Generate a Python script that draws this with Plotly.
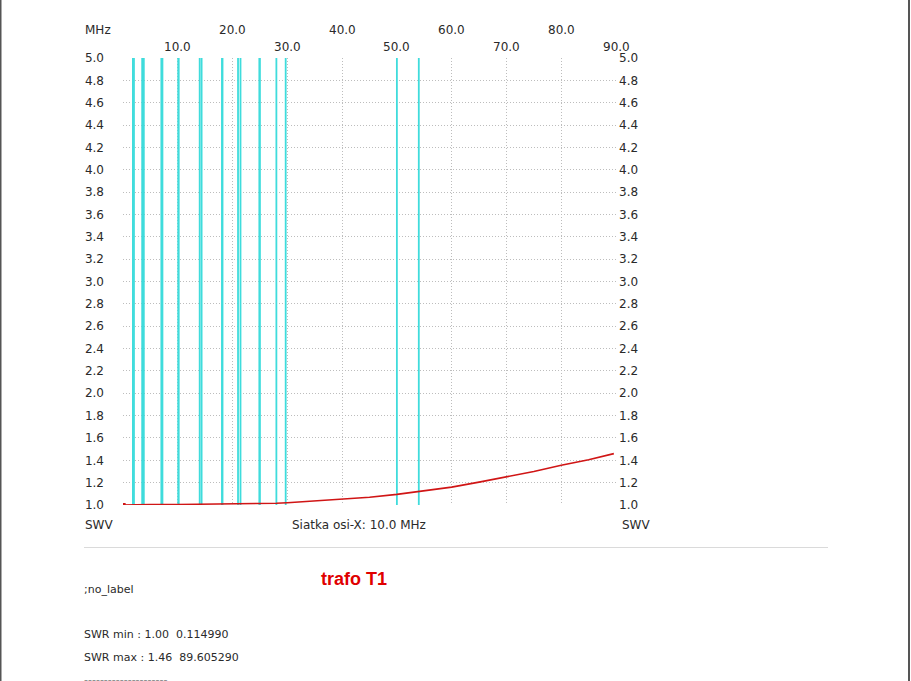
import plotly.graph_objects as go

# ---- data ----
freq_mhz = [0.115, 2.5, 5.0, 10.0, 15.0, 17.5, 20.0, 25.0, 28.0, 30.0, 35.0, 40.0, 45.0,
            50.0, 55.0, 60.0, 65.0, 70.0, 75.0, 80.0, 85.0, 89.605]
swr = [1.00, 1.005, 1.005, 1.005, 1.006, 1.01, 1.01, 1.012, 1.015, 1.02, 1.035, 1.05, 1.07,
       1.095, 1.125, 1.16, 1.205, 1.25, 1.30, 1.355, 1.405, 1.46]
band_edges_mhz = [1.81, 2.0, 3.5, 3.8, 7.0, 7.2, 10.1, 10.15, 14.0, 14.35, 18.068, 18.168,
                  21.0, 21.45, 24.89, 24.99, 28.0, 29.7, 50.0, 54.0]
x_ticks_upper = [20, 40, 60, 80]
x_ticks_lower = [10, 30, 50, 70, 90]
y_ticks = [round(1.0 + 0.2 * i, 1) for i in range(21)]
y_tick_text = [f"{v:.1f}" for v in y_ticks]
info_lines = [";no_label", "SWR min : 1.00  0.114990", "SWR max : 1.46  89.605290",
              "---------------------"]
title_text = "trafo T1"

W, H = 911, 681
L, R, T, B = 123, 616, 58, 505
pw, ph = R - L, B - T
FONT = "DejaVu Sans"
TXT = "#2a2a2a"

def px(x):
    return (x - L) / pw

def py(y):
    return (B - y) / ph

fig = go.Figure()

# band marker lines
bx, by = [], []
for f in band_edges_mhz:
    bx += [f, f, None]
    by += [1.0, 5.0, None]
fig.add_trace(go.Scatter(x=bx, y=by, mode="lines", line=dict(color="#3FDCDC", width=1.8),
                         hoverinfo="skip", showlegend=False))

# SWR curve
fig.add_trace(go.Scatter(x=freq_mhz, y=swr, mode="lines", line=dict(color="#D01515", width=1.6),
                         showlegend=False))
fig.add_trace(go.Scatter(x=[freq_mhz[0]], y=[swr[0]], mode="markers",
                         marker=dict(color="#D01515", size=4, symbol="square"), showlegend=False))
# right axis dummy
fig.add_trace(go.Scatter(x=[None], y=[None], yaxis="y2", showlegend=False))

ann = []
for v in x_ticks_upper:
    ann.append(dict(x=v, y=py(30), xref="x", yref="paper", text=f"{v:.1f}", showarrow=False,
                    font=dict(family=FONT, size=12, color=TXT), xanchor="center", yanchor="middle"))
for v in x_ticks_lower:
    ann.append(dict(x=v, y=py(47), xref="x", yref="paper", text=f"{v:.1f}", showarrow=False,
                    font=dict(family=FONT, size=12, color=TXT), xanchor="center", yanchor="middle"))

def label(xp, yp, text, anchor="left", size=12, color=TXT, bold=False, family=FONT):
    t = f"<b>{text}</b>" if bold else text
    ann.append(dict(x=px(xp), y=py(yp), xref="paper", yref="paper", text=t, showarrow=False,
                    font=dict(family=family, size=size, color=color), xanchor=anchor,
                    yanchor="middle"))

label(83, 30, "MHz")
label(83, 525, "SWV")
label(620, 525, "SWV")
label(359, 525, "Siatka osi-X: 10.0 MHz", anchor="center")
label(354, 579, title_text, anchor="center", size=18, color="#E00000", bold=True,
      family="Liberation Sans")
label(82, 589, info_lines[0], size=11)
label(82, 634, info_lines[1], size=11)
label(82, 657, info_lines[2], size=11)
label(82, 679, info_lines[3], size=11, color="#888888")

shapes = [
    dict(type="line", xref="paper", yref="paper", x0=px(84), x1=px(828), y0=py(547.5), y1=py(547.5),
         line=dict(color="#DADADA", width=1)),
    dict(type="line", xref="paper", yref="paper", x0=px(0.75), x1=px(0.75), y0=py(0), y1=py(681),
         line=dict(color="#555555", width=1.5)),
    dict(type="line", xref="paper", yref="paper", x0=px(909), x1=px(909), y0=py(0), y1=py(681),
         line=dict(color="#555555", width=2)),
]

GRID = "#BDBDBD"
fig.update_layout(
    width=W, height=H, autosize=False,
    margin=dict(l=L, r=W - R, t=T, b=H - B, pad=0),
    paper_bgcolor="white", plot_bgcolor="white",
    font=dict(family=FONT, size=12, color=TXT),
    xaxis=dict(range=[0, 90], tickvals=[0, 10, 20, 30, 40, 50, 60, 70, 80, 90], showticklabels=False,
               showgrid=True, gridcolor=GRID, griddash="1px,2px", gridwidth=1, zeroline=False,
               showline=False, ticks=""),
    yaxis=dict(range=[1.0, 5.0], tickvals=y_ticks, ticktext=y_tick_text, showgrid=True,
               gridcolor=GRID, griddash="1px,2px", gridwidth=1, zeroline=False, showline=False,
               ticks="", ticklabelstandoff=18, tickfont=dict(family=FONT, size=12, color=TXT)),
    yaxis2=dict(range=[1.0, 5.0], tickvals=y_ticks, ticktext=y_tick_text, overlaying="y",
                side="right", showgrid=False, zeroline=False, showline=False, ticks="",
                ticklabelstandoff=2, tickfont=dict(family=FONT, size=12, color=TXT)),
    annotations=ann, shapes=shapes, showlegend=False,
)

fig.write_html("out.html", config={"displayModeBar": False},
               post_script="document.body.style.margin='0';")
